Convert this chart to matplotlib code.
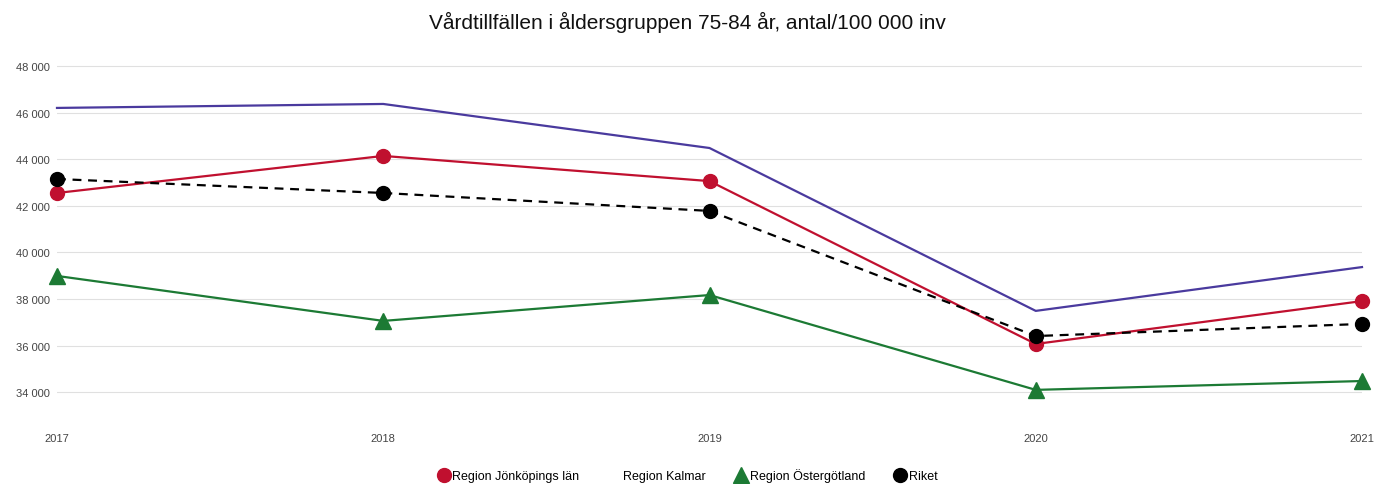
import matplotlib
matplotlib.use("Agg")
import matplotlib.pyplot as plt
from matplotlib.lines import Line2D
from matplotlib.ticker import FuncFormatter

plt.rcParams['font.family'] = ['Liberation Sans', 'DejaVu Sans']

years = [2017, 2018, 2019, 2020, 2021]
jonkoping = [42550, 44140, 43060, 36070, 37910]
kalmar = [46200, 46370, 44480, 37490, 39370]
ostergotland = [38990, 37060, 38170, 34100, 34480]
riket = [43150, 42550, 41780, 36410, 36930]

c_red = '#C0102F'
c_purple = '#4A3A9E'
c_green = '#1C7A34'
c_black = '#000000'

fig = plt.figure(figsize=(13.74, 4.85), dpi=100)
ax = fig.add_axes([57/1374, 0.122, (1362-57)/1374, 0.8715-0.122])

ax.plot(years, kalmar, color=c_purple, lw=1.6, zorder=3, clip_on=False)
ax.plot(years, jonkoping, color=c_red, lw=1.6, marker='o', ms=10, zorder=4, clip_on=False)
ax.plot(years, ostergotland, color=c_green, lw=1.6, marker='^', ms=12, zorder=4, clip_on=False)
ax.plot(years, riket, color=c_black, lw=1.6, ls=(0, (4, 3)), marker='o', ms=10, zorder=5,
        clip_on=False)

ax.set_xlim(2017, 2021)
ax.set_ylim(32600, 48200)
ax.set_yticks(range(34000, 48001, 2000))
ax.yaxis.set_major_formatter(FuncFormatter(lambda v, p: f"{int(v):,}".replace(',', ' ')))
ax.set_xticks(years)
ax.set_xticklabels([str(y) for y in years])
ax.grid(axis='y', color='#e0e0e0', lw=0.8)
ax.set_axisbelow(True)
for s in ax.spines.values():
    s.set_visible(False)
ax.tick_params(axis='both', length=0, labelsize=8, colors='#444444')
ax.tick_params(axis='y', pad=5)
ax.tick_params(axis='x', pad=6)

fig.text(0.5, 1 - 22/485, 'Vårdtillfällen i åldersgruppen 75-84 år, antal/100 000 inv',
         ha='center', va='center', fontsize=15, color='#111111')

handles = [
    Line2D([], [], ls='none', marker='o', color=c_red, ms=10),
    Line2D([], [], ls='none', marker='o', color='none', ms=10),
    Line2D([], [], ls='none', marker='^', color=c_green, ms=12),
    Line2D([], [], ls='none', marker='o', color=c_black, ms=10),
]
labels = ['Region Jönköpings län', 'Region Kalmar', 'Region Östergötland', 'Riket']
fig.legend(handles, labels, loc='center', bbox_to_anchor=(0.5, 1 - 476/485), ncol=4,
           frameon=False, fontsize=9, handletextpad=0.1, columnspacing=2.2,
           handlelength=1.2)

fig.savefig('out.png', dpi=100)
